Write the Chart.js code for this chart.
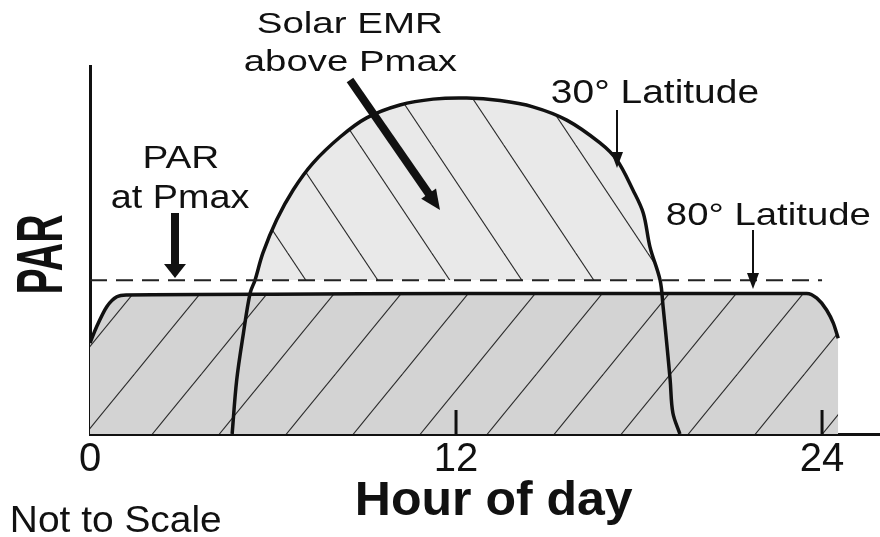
<!DOCTYPE html>
<html>
<head>
<meta charset="utf-8">
<script src="https://cdn.jsdelivr.net/npm/chart.js@4.4.1/dist/chart.umd.min.js"></script>
<style>
  html, body { margin: 0; padding: 0; background: #fff; }
  canvas { display: block; }
</style>
</head>
<body>
<canvas id="parChart" width="880" height="537"></canvas>
<script>
  // ---- Data (PAR in arbitrary units 0-100) ----
  const HOURS_30 = [4.66, 4.81, 5.03, 5.25, 5.41, 5.67, 6.12, 6.66, 7.31, 8.2, 9.07, 10.16, 11.25, 12.35,
                    13.44, 14.52, 15.63, 16.72, 17.27, 17.8, 18.14, 18.36, 18.69, 18.79, 18.92, 19.02, 19.11, 19.34];
  const PAR_30   = [0, 14.7, 27.4, 38.3, 41.8, 49.2, 58.2, 66.3, 73.6, 80.7, 85.9, 89.4, 91.0, 91.3,
                    90.6, 88.9, 85.3, 79.1, 74.5, 66.3, 60.0, 50.8, 41.8, 34.5, 23.6, 14.7, 5.7, 0];

  const HOURS_80 = [0, 0.22, 0.55, 0.88, 1.2, 6, 12, 18, 23.5, 23.83, 24.15, 24.37, 24.53];
  const PAR_80   = [24.7, 29.2, 34.6, 37.3, 37.8, 38.0, 38.2, 38.2, 38.2, 36.9, 33.7, 30.1, 26.0];

  const PMAX_HOURS = [0, 24];
  const PMAX_PAR   = [41.8, 41.8];

  const X_TICKS = [0, 12, 24];
  const TICK_MARKS = [12, 24];

  const INK = '#111';

  // ---- Hatch patterns ------------------------------------------------
  // dir 1 = '\', dir -1 = '/'
  function hatch(bg, s, h, c, dir) {
    const cv = document.createElement('canvas');
    cv.width = s; cv.height = h;
    const g = cv.getContext('2d');
    g.fillStyle = bg;
    g.fillRect(0, 0, s, h);
    g.strokeStyle = '#2a2a2a';
    g.lineWidth = 1.1;
    for (let k = -2; k <= 2; k++) {
      const x0 = c + k * s;
      g.beginPath();
      g.moveTo(x0 - dir * s, -h);
      g.lineTo(x0 + dir * 2 * s, 2 * h);
      g.stroke();
    }
    return g.createPattern(cv, 'repeat');
  }
  const darkHatch  = hatch('#d3d3d3', 67, 82, 38, -1);
  const lightHatch = hatch('#e9e9e9', 72, 108, 47, 1);

  const toXY = (xs, ys) => xs.map((x, i) => ({ x, y: ys[i] }));

  // ---- Text / arrows --------------------------------------------------
  function fitText(ctx, text, left, right, base, size, bold) {
    ctx.font = (bold ? 'bold ' : '') + size + 'px "Liberation Sans", Arial, sans-serif';
    const m = ctx.measureText(text);
    const w = m.actualBoundingBoxLeft + m.actualBoundingBoxRight;
    const k = (right - left) / w;
    ctx.save();
    ctx.translate(left + k * m.actualBoundingBoxLeft, base);
    ctx.scale(k, 1);
    ctx.textBaseline = 'alphabetic';
    ctx.textAlign = 'left';
    ctx.fillText(text, 0, 0);
    ctx.restore();
  }

  function arrow(ctx, x1, y1, x2, y2, shaftW, headL, headW) {
    const len = Math.hypot(x2 - x1, y2 - y1);
    const ux = (x2 - x1) / len, uy = (y2 - y1) / len;
    const bx = x2 - ux * headL, by = y2 - uy * headL;
    ctx.lineWidth = shaftW;
    ctx.lineCap = 'butt';
    ctx.beginPath();
    ctx.moveTo(x1, y1);
    ctx.lineTo(bx + ux, by + uy);
    ctx.stroke();
    ctx.beginPath();
    ctx.moveTo(x2, y2);
    ctx.lineTo(bx - uy * headW / 2, by + ux * headW / 2);
    ctx.lineTo(bx + uy * headW / 2, by - ux * headW / 2);
    ctx.closePath();
    ctx.fill();
  }

  const tickMarkPlugin = {
    id: 'tickMarks',
    afterDatasetsDraw(chart) {
      const { ctx, scales: { x }, chartArea } = chart;
      ctx.save();
      ctx.strokeStyle = INK;
      ctx.lineWidth = 3;
      TICK_MARKS.forEach((v) => {
        const px = x.getPixelForValue(v);
        ctx.beginPath();
        ctx.moveTo(px, chartArea.bottom);
        ctx.lineTo(px, chartArea.bottom - 24);
        ctx.stroke();
      });
      ctx.restore();
    },
  };

  const annotationPlugin = {
    id: 'annotations',
    afterDraw(chart) {
      const ctx = chart.ctx;
      ctx.save();
      ctx.fillStyle = INK;
      ctx.strokeStyle = INK;

      fitText(ctx, 'Solar EMR', 258, 442, 33, 30, false);
      fitText(ctx, 'above Pmax', 245, 457, 71, 30, false);
      fitText(ctx, '30° Latitude', 552, 758, 103, 34, false);
      fitText(ctx, '80° Latitude', 667, 870, 225, 32, false);
      fitText(ctx, 'PAR', 145, 218, 168, 32, false);
      fitText(ctx, 'at Pmax', 112, 250, 208, 33, false);
      fitText(ctx, 'Not to Scale', 13, 220, 532, 37, false);
      fitText(ctx, 'Hour of day', 358, 633, 515, 48, true);

      // rotated axis label
      ctx.save();
      ctx.translate(62, 292);
      ctx.rotate(-Math.PI / 2);
      fitText(ctx, 'PAR', 0, 77, 0, 65, true);
      ctx.restore();

      arrow(ctx, 350, 80, 440, 210, 8, 20, 18);
      arrow(ctx, 175, 213, 175, 278, 8, 14, 22);
      arrow(ctx, 617, 110, 617, 168, 2, 16, 12);
      arrow(ctx, 753, 230, 753, 289, 2, 16, 12);
      ctx.restore();
    },
  };

  // ---- Chart ------------------------------------------------------------
  Chart.defaults.font.family = '"Liberation Sans", Arial, sans-serif';
  Chart.defaults.color = INK;

  new Chart(document.getElementById('parChart'), {
    type: 'line',
    data: {
      datasets: [
        {
          label: 'PAR at Pmax',
          data: toXY(PMAX_HOURS, PMAX_PAR),
          borderColor: '#222',
          borderWidth: 2,
          borderDash: [17, 9],
          pointRadius: 0,
          fill: false,
          order: 1,
        },
        {
          label: '30° Latitude',
          data: toXY(HOURS_30, PAR_30),
          borderColor: INK,
          borderWidth: 3.5,
          pointRadius: 0,
          tension: 0.35,
          fill: { target: { value: PMAX_PAR[0] }, above: lightHatch, below: 'rgba(0,0,0,0)' },
          order: 2,
        },
        {
          label: '80° Latitude',
          data: toXY(HOURS_80, PAR_80),
          borderColor: INK,
          borderWidth: 3.5,
          backgroundColor: darkHatch,
          pointRadius: 0,
          cubicInterpolationMode: 'monotone',
          fill: 'origin',
          order: 3,
        },
      ],
    },
    options: {
      responsive: false,
      animation: false,
      events: [],
      layout: { padding: { left: 90, top: 66, right: 0, bottom: 0 } },
      scales: {
        x: {
          type: 'linear',
          min: 0,
          max: 25.9,
          afterBuildTicks: (s) => { s.ticks = X_TICKS.map((v) => ({ value: v })); },
          afterFit: (s) => { s.height = 103; },
          grid: { display: false, drawTicks: false },
          border: { display: true, color: INK, width: 3 },
          ticks: { color: INK, font: { size: 40 }, padding: 2, maxRotation: 0, autoSkip: false },
        },
        y: {
          type: 'linear',
          min: 0,
          max: 100,
          afterFit: (s) => { s.width = 0; },
          grid: { display: false, drawTicks: false },
          border: { display: true, color: INK, width: 3 },
          ticks: { display: false },
        },
      },
      plugins: {
        legend: { display: false },
        tooltip: { enabled: false },
      },
    },
    plugins: [tickMarkPlugin, annotationPlugin],
  });
</script>
</body>
</html>
